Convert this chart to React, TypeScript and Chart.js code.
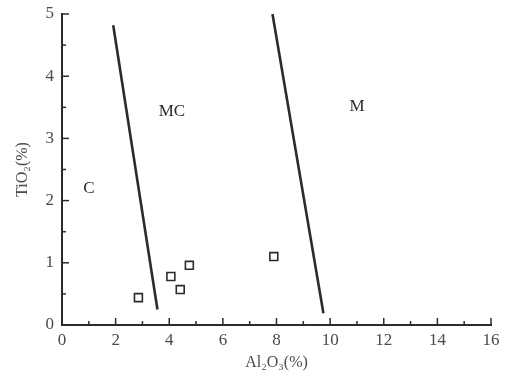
import React, { useEffect, useRef } from "react";
import { Chart, registerables } from "chart.js";

Chart.register(...registerables);

const samplesX = [2.85, 4.06, 4.41, 4.75, 7.9];
const samplesY = [0.44, 0.78, 0.57, 0.96, 1.1];
const line1X = [1.91, 3.56];
const line1Y = [4.82, 0.25];
const line2X = [7.85, 9.75];
const line2Y = [5.0, 0.19];
const regionNames = ["C", "MC", "M"];
const regionX = [1.0, 4.1, 11.0];
const regionY = [2.2, 3.44, 3.52];
const xTicks = [0, 2, 4, 6, 8, 10, 12, 14, 16];
const yTicks = [0, 1, 2, 3, 4, 5];

const INK = "#2b2b2b";
const TEXT = "#4a4a4a";
const FONT = "'Liberation Serif', 'DejaVu Serif', serif";

const zip = (xs: number[], ys: number[]) => xs.map((x, i) => ({ x, y: ys[i] }));

const decorPlugin = {
  id: "decor",
  afterDraw(chart: any) {
    const { ctx, scales } = chart;
    const xs = scales.x;
    const ys = scales.y;
    ctx.save();
    ctx.strokeStyle = INK;
    ctx.lineWidth = 1.5;
    for (let v = 0; v <= 16; v += 1) {
      const px = xs.getPixelForValue(v);
      const len = v % 2 === 0 ? 7 : 4;
      ctx.beginPath();
      ctx.moveTo(px, ys.bottom);
      ctx.lineTo(px, ys.bottom - len);
      ctx.stroke();
    }
    for (let v = 0; v <= 5; v += 0.5) {
      const py = ys.getPixelForValue(v);
      const len = Number.isInteger(v) ? 7 : 4;
      ctx.beginPath();
      ctx.moveTo(xs.left, py);
      ctx.lineTo(xs.left + len, py);
      ctx.stroke();
    }
    ctx.fillStyle = INK;
    ctx.font = `17px ${FONT}`;
    ctx.textAlign = "center";
    ctx.textBaseline = "middle";
    regionNames.forEach((n, i) => {
      ctx.fillText(n, xs.getPixelForValue(regionX[i]), ys.getPixelForValue(regionY[i]));
    });
    ctx.restore();
  },
};

export default function App() {
  const ref = useRef<HTMLCanvasElement | null>(null);
  useEffect(() => {
    document.body.style.margin = "0";
    const chart = new Chart(ref.current!, {
      type: "scatter",
      data: {
        datasets: [
          {
            data: zip(samplesX, samplesY),
            pointStyle: "rect",
            pointRadius: 5.6,
            pointBorderWidth: 1.6,
            borderColor: INK,
            backgroundColor: "#ffffff",
          },
          {
            data: zip(line1X, line1Y),
            showLine: true,
            pointRadius: 0,
            borderColor: INK,
            borderWidth: 2.6,
          },
          {
            data: zip(line2X, line2Y),
            showLine: true,
            pointRadius: 0,
            borderColor: INK,
            borderWidth: 2.6,
          },
        ],
      },
      options: {
        animation: false,
        responsive: false,
        layout: { padding: { top: 14, right: 14, left: 0, bottom: 0 } },
        plugins: { legend: { display: false }, tooltip: { enabled: false } },
        scales: {
          x: {
            type: "linear",
            min: 0,
            max: 16,
            afterBuildTicks: (s: any) => {
              s.ticks = xTicks.map((v) => ({ value: v }));
            },
            afterFit: (s: any) => {
              s.height = 51;
              s.paddingLeft = 0;
              s.paddingRight = 0;
            },
            grid: { display: false, drawTicks: false },
            border: { display: true, color: INK, width: 2 },
            ticks: {
              color: TEXT,
              font: { family: FONT, size: 17 },
              padding: 5,
            },
            title: {
              display: true,
              text: "Al₂O₃(%)",
              color: TEXT,
              font: { family: FONT, size: 16 },
              padding: { top: 0, bottom: 4 },
            },
          },
          y: {
            type: "linear",
            min: 0,
            max: 5,
            afterBuildTicks: (s: any) => {
              s.ticks = yTicks.map((v) => ({ value: v }));
            },
            afterFit: (s: any) => {
              s.width = 62;
              s.paddingTop = 0;
              s.paddingBottom = 0;
            },
            grid: { display: false, drawTicks: false },
            border: { display: true, color: INK, width: 2 },
            ticks: {
              color: TEXT,
              font: { family: FONT, size: 17 },
              padding: 8,
            },
            title: {
              display: true,
              text: "TiO₂(%)",
              color: TEXT,
              font: { family: FONT, size: 16 },
              padding: { top: 13, bottom: 0 },
            },
          },
        },
      },
      plugins: [decorPlugin],
    });
    return () => chart.destroy();
  }, []);
  return (
    <div style={{ width: 505, height: 376 }}>
      <canvas ref={ref} width={505} height={376} />
    </div>
  );
}
